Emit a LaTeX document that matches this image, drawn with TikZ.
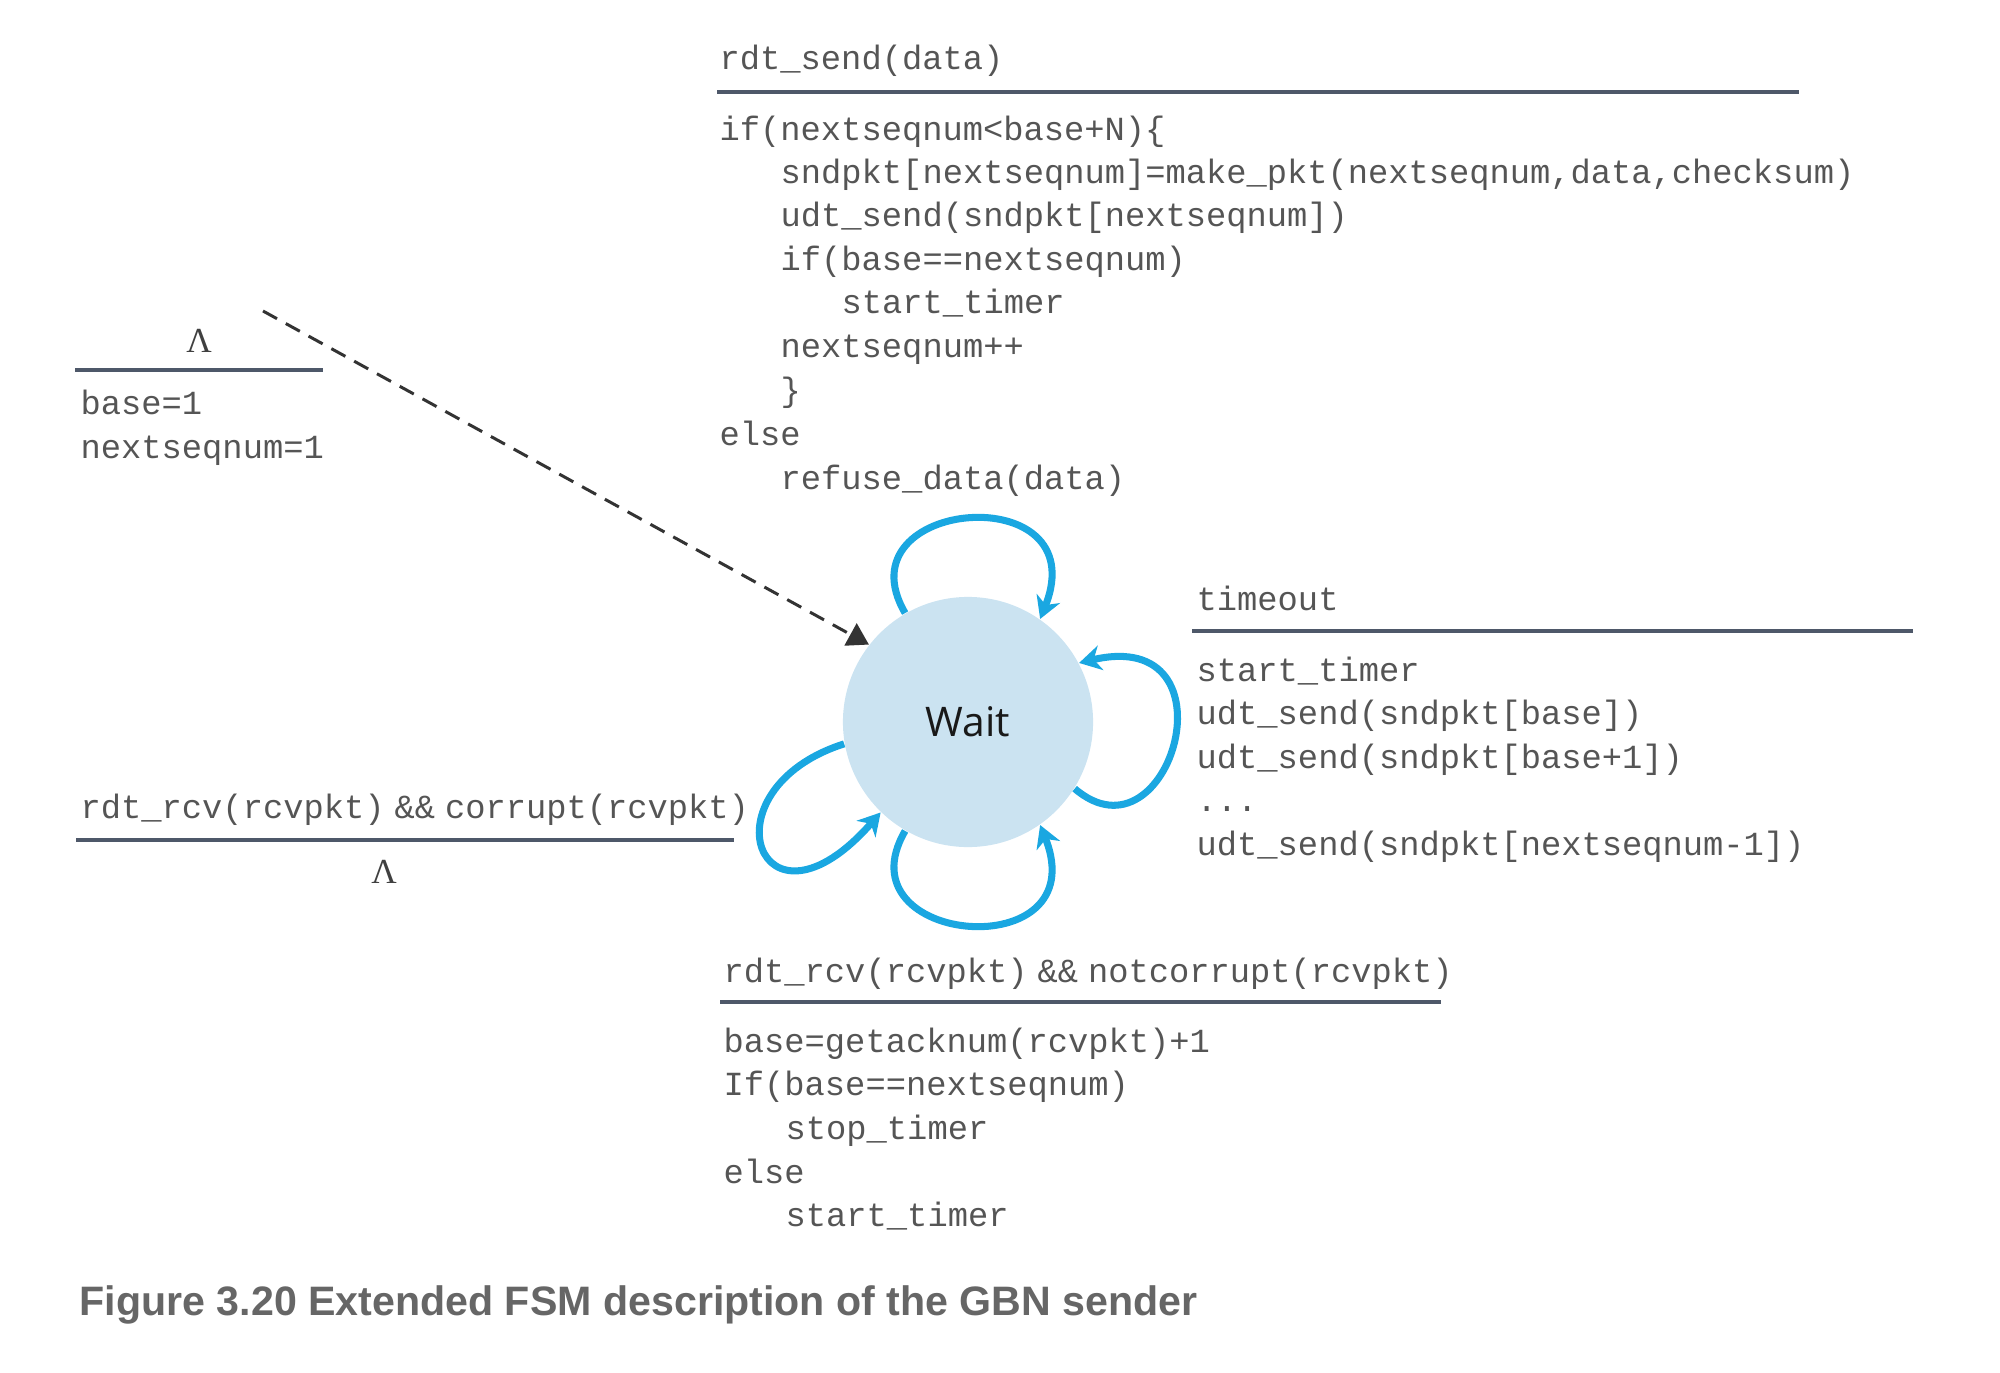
\documentclass[tikz,border=0pt]{standalone}
\usepackage{fontspec}
\setmainfont{Liberation Serif}
\newfontfamily\codefont{Liberation Mono}
\newfontfamily\statefont{Open Sans}
\newfontfamily\capfont{Liberation Sans}
\usetikzlibrary{arrows.meta}

\definecolor{codegray}{HTML}{555555}
\definecolor{rulegray}{HTML}{4E5869}
\definecolor{loopblue}{HTML}{1AA7E1}
\definecolor{statefill}{HTML}{CBE3F1}
\definecolor{capgray}{HTML}{666666}

% narrow word gap used in the guard expressions
\newcommand{\gap}{\hspace{0.1cm}}

\begin{document}
\begin{tikzpicture}[x=0.01cm, y=-0.01cm,
  code/.style={anchor=base west, inner sep=0pt, text=codegray,
    font=\codefont\fontsize{9.6}{11}\selectfont},
  guard/.style={draw=rulegray, line width=1.1pt},
  lambda/.style={anchor=base, inner sep=0pt, text=black!75,
    font=\fontsize{10}{12}\selectfont},
  selfloop/.style={draw=loopblue, line width=2pt,
    -{Stealth[length=0.22cm, width=0.25cm, inset=0.07cm]}},
  initarrow/.style={draw=black!80, line width=0.85pt,
    dash pattern=on 0.16cm off 0.1cm,
    -{Triangle[length=0.21cm, width=0.25cm]}},
  ]
\useasboundingbox (0,0) rectangle (2000,1373);

% state
\node[circle, fill=statefill, minimum size=2.5cm, inner sep=0pt,
      font=\statefont\fontsize{11.6}{13}\selectfont, text=black!90] (w) at (968,722) {Wait};

% rdt_send transition
\node[code] (sendev) at (719,70) {rdt\_send(data)};
\draw[guard] (717,92) -- (1799,92);
\node[code] (s1) at (719,140) {if(nextseqnum<base+N)\{};
\node[code] (s2) at (780,184) {sndpkt[nextseqnum]=make\_pkt(nextseqnum,data,checksum)};
\node[code] (s3) at (780,227) {udt\_send(sndpkt[nextseqnum])};
\node[code] (s4) at (780,270) {if(base==nextseqnum)};
\node[code] (s5) at (841,314) {start\_timer};
\node[code] (s6) at (780,357) {nextseqnum++};
\node[code] (s7) at (780,401) {\}};
\node[code] (s8) at (719,445) {else};
\node[code] (s9) at (780,489) {refuse\_data(data)};

% initial transition
\node[lambda] (initlam) at (199,352) {Λ};
\draw[guard] (75,370) -- (323,370);
\node[code] (i1) at (80,414) {base=1};
\node[code] (i2) at (80,458) {nextseqnum=1};
\coordinate (initstart) at (263,311);
\draw[initarrow] (initstart) -- (w.142);

% timeout transition
\node[code] (tev) at (1196,610) {timeout};
\draw[guard] (1192,631) -- (1913,631);
\node[code] (t1) at (1196,681) {start\_timer};
\node[code] (t2) at (1196,724) {udt\_send(sndpkt[base])};
\node[code] (t3) at (1196,768) {udt\_send(sndpkt[base+1])};
\node[code] (t4) at (1196,811) {...};
\node[code] (t5) at (1196,855) {udt\_send(sndpkt[nextseqnum-1])};

% corrupt ACK transition
\node[code] (cev) at (80,818) {rdt\_rcv(rcvpkt)\gap\&\&\gap corrupt(rcvpkt)};
\draw[guard] (76,840) -- (734,840);
\node[lambda] (clam) at (384,883) {Λ};

% good ACK transition
\node[code] (aev) at (723,982) {rdt\_rcv(rcvpkt)\gap\&\&\gap notcorrupt(rcvpkt)};
\draw[guard] (720,1002) -- (1441,1002);
\node[code] (a1) at (723,1052) {base=getacknum(rcvpkt)+1};
\node[code] (a2) at (723,1095) {If(base==nextseqnum)};
\node[code] (a3) at (785,1139) {stop\_timer};
\node[code] (a4) at (723,1183) {else};
\node[code] (a5) at (785,1226) {start\_timer};

% self loops
\draw[selfloop] (w.120) .. controls (838,498) and (1097,476) .. (w.55);
\draw[selfloop] (w.-32) .. controls (1170,870) and (1240,625) .. (w.28);
\draw[selfloop] (w.-120) .. controls (838,946) and (1097,968) .. (w.-55);
\draw[selfloop] (w.-170) .. controls (700,790) and (760,950) .. (w.-134);

% caption
\node[anchor=base west, inner sep=0pt, text=capgray,
      font=\capfont\bfseries\fontsize{11.7}{14}\selectfont] (cap) at (79,1315)
  {Figure 3.20 Extended FSM description of the GBN sender};
\end{tikzpicture}
\end{document}
